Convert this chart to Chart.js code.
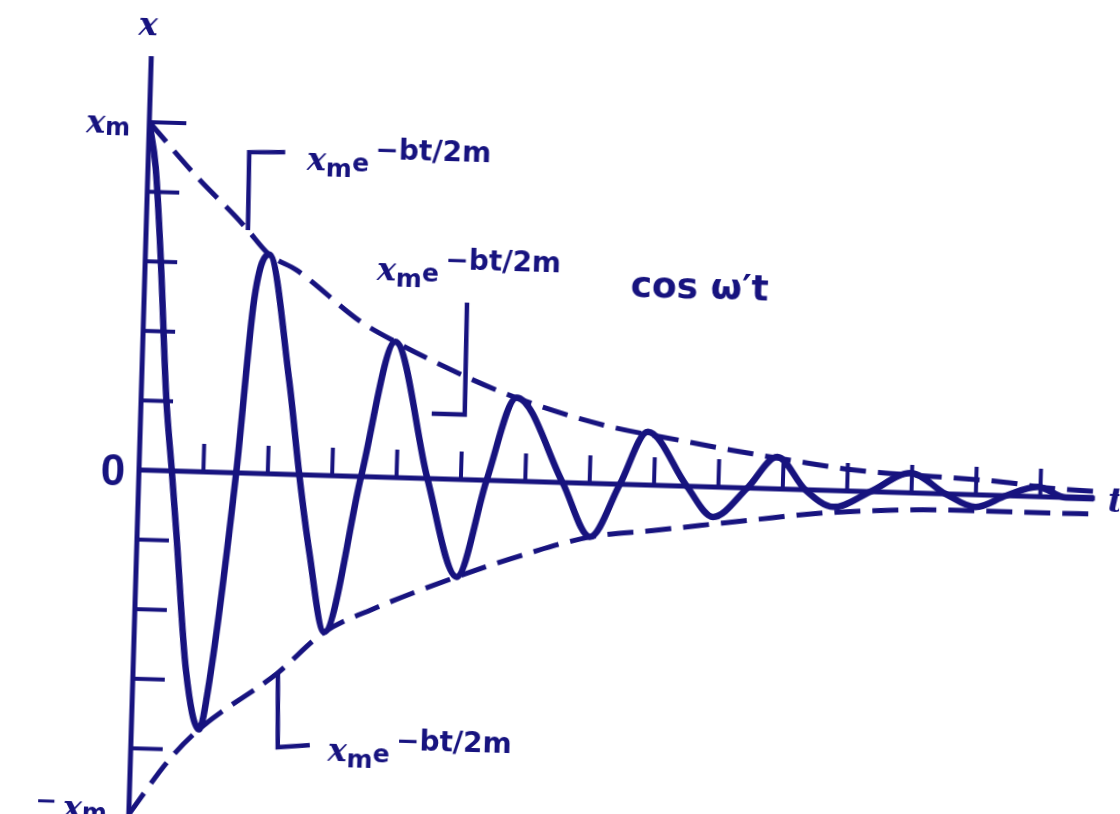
<!DOCTYPE html>
<html>
<head>
<meta charset="utf-8">
<title>Damped oscillation</title>
<script src="https://cdn.jsdelivr.net/npm/chart.js@4.4.1/dist/chart.umd.min.js"></script>
<style>
    html, body { margin: 0; padding: 0; background: #fff; overflow: hidden; }
    #wrap {
        position: absolute; left: 0; top: 0; width: 1120px; height: 900px;
        transform: rotate(1.7deg); transform-origin: 140px 470px;
    }
</style>
</head>
<body>
<div id="wrap"><canvas id="oscChart" width="1120" height="900"></canvas></div>
<script>
// 阻尼振动 x(t) = x_m e^(-bt/2m) cos ω't
const INK = '#17137f';

// 振动曲线 (t, x/x_m)
const curveT = [0, 0.12, 0.24, 0.39, 0.51, 0.61, 0.82, 1.05, 1.19, 1.51, 1.71, 1.92,
    2.29, 2.49, 2.68, 2.95, 3.45, 3.92, 4.48, 4.98, 5.40, 5.83, 6.58, 7.03, 7.47, 7.88,
    8.51, 8.93, 9.45, 9.90, 10.35, 10.80, 11.36, 11.98, 12.53, 13.00, 13.47, 13.96, 14.40, 14.83];
const curveX = [1.0, 0.87, 0.61, 0.21, 0, -0.18, -0.57, -0.74, -0.60, 0, 0.50, 0.63,
    0.27, 0, -0.22, -0.45, 0, 0.39, 0, -0.28, 0, 0.24, 0, -0.154, 0, 0.153,
    0, -0.086, 0, 0.092, 0, -0.047, 0, 0.057, 0, -0.035, 0, 0.028, 0, 0];

// 上包络线  x_m e^(-bt/2m)
const upperT = [0, 0.80, 1.39, 1.57, 1.92, 2.35, 3.38, 3.92, 5.04, 5.83, 7.18, 8.49, 9.17,
    10.37, 11.09, 13.42, 14.10, 14.85];
const upperX = [1.0, 0.84, 0.735, 0.70, 0.63, 0.588, 0.444, 0.39, 0.295, 0.239, 0.169, 0.128, 0.108,
    0.077, 0.061, 0.039, 0.026, 0.02];

// 下包络线  -x_m e^(-bt/2m)
const lowerT = [0, 0.6, 1.05, 2.24, 2.95, 3.69, 4.98, 6.10, 7.03, 8.01, 9.55, 10.59, 11.99, 12.67, 14.12, 14.85];
const lowerX = [-0.99, -0.83, -0.74, -0.572, -0.45, -0.38, -0.28, -0.205, -0.154, -0.13, -0.091, -0.066,
    -0.049, -0.046, -0.046, -0.045];

// 坐标轴刻度
const tTicks = [1, 2, 3, 4, 5, 6, 7, 8, 9, 10, 11, 12, 13, 14];
const xTicks = [1, 0.8, 0.6, 0.4, 0.2, -0.2, -0.4, -0.6, -0.8, -1];
const tAxisEnd = 14.85;
const xAxisTop = 1.19;

// 标注锚点
const noteT = [1.58, 5.03, 2.25];
const noteX = [0.698, 0.187, -0.572];

const toPoints = (ts, xs) => ts.map((t, i) => ({ x: t, y: xs[i] }));

function drawRuns(ctx, x, y, runs, align) {
    if (align === 'right') {
        let w = 0;
        runs.forEach(r => { ctx.font = r.font; w += ctx.measureText(r.text).width + (r.gap || 0); });
        x -= w;
    }
    runs.forEach(r => {
        ctx.font = r.font;
        ctx.fillText(r.text, x, y + (r.dy || 0));
        x += ctx.measureText(r.text).width + (r.gap || 0);
    });
}

const X_FONT = 'italic bold 32px "DejaVu Serif"';
const expRuns = [
    { text: 'x', font: X_FONT },
    { text: 'm', font: 'bold 25px "DejaVu Sans"', dy: 6 },
    { text: 'e', font: 'bold 25px "DejaVu Sans"', gap: 6 },
    { text: '\u2212bt/2m', font: 'bold 28px "DejaVu Sans"', dy: -13 }
];

const notes = [
    { path: [[0, 0], [-1, -78], [35, -79]], text: [57, -62] },
    { path: [[-33, 0], [0, 0], [-1, -112]], text: [-92, -132], cos: [162, -123] },
    { path: [[0, 0], [2, 74], [34, 71]], text: [52, 86] }
];

const inkPlugin = {
    id: 'ink',
    beforeDatasetsDraw(chart) {
        const { ctx } = chart;
        const sx = chart.scales.x, sy = chart.scales.y;
        const px = v => sx.getPixelForValue(v);
        const py = v => sy.getPixelForValue(v);
        const seg = (x1, y1, x2, y2) => { ctx.beginPath(); ctx.moveTo(x1, y1); ctx.lineTo(x2, y2); ctx.stroke(); };
        ctx.save();
        ctx.strokeStyle = INK;
        ctx.lineCap = 'butt';
        // 坐标轴
        ctx.lineWidth = 5;
        seg(px(0), py(xAxisTop), px(0), py(sy.min));
        seg(px(0), py(0), px(tAxisEnd), py(0));
        // 刻度
        ctx.lineWidth = 4;
        tTicks.forEach(t => seg(px(t), py(0), px(t), py(0) - 28));
        xTicks.forEach(v => seg(px(0), py(v), px(0) + (v === 1 ? 37 : 32), py(v)));
        ctx.restore();
    },
    afterDatasetsDraw(chart) {
        const { ctx } = chart;
        const sx = chart.scales.x, sy = chart.scales.y;
        const px = v => sx.getPixelForValue(v);
        const py = v => sy.getPixelForValue(v);
        ctx.save();
        ctx.strokeStyle = INK;
        ctx.fillStyle = INK;
        ctx.textBaseline = 'alphabetic';

        // 轴标签
        ctx.textAlign = 'center';
        ctx.font = X_FONT;
        ctx.fillText('x', px(0) - 4, py(1) - 87);
        ctx.textAlign = 'left';
        drawRuns(ctx, px(0) - 19, py(1) + 12, [
            { text: 'x', font: X_FONT },
            { text: 'm', font: 'bold 24px "DejaVu Sans"', dy: 2 }
        ], 'right');
        ctx.textAlign = 'center';
        ctx.font = 'bold 44px "Liberation Sans"';
        ctx.fillText('0', px(0) - 26, py(0) + 16);
        ctx.textAlign = 'left';
        drawRuns(ctx, px(0) - 22, py(-1) + 2, [
            { text: '\u2212', font: 'bold 26px "DejaVu Sans"', gap: 6, dy: -8 },
            { text: 'x', font: X_FONT },
            { text: 'm', font: 'bold 24px "DejaVu Sans"', dy: 2 }
        ], 'right');
        ctx.font = 'italic bold 34px "DejaVu Serif"';
        ctx.fillText('t', px(tAxisEnd) + 13, py(0) + 13);

        // 包络线与曲线的标注
        ctx.lineWidth = 4.5;
        ctx.lineJoin = 'miter';
        notes.forEach((n, i) => {
            const ax = px(noteT[i]), ay = py(noteX[i]);
            ctx.beginPath();
            n.path.forEach(([dx, dy], k) => k ? ctx.lineTo(ax + dx, ay + dy) : ctx.moveTo(ax + dx, ay + dy));
            ctx.stroke();
            drawRuns(ctx, ax + n.text[0], ay + n.text[1], expRuns);
            if (n.cos) {
                ctx.font = 'bold 36px "DejaVu Sans"';
                ctx.fillText('cos \u03c9\u2032t', ax + n.cos[0], ay + n.cos[1]);
            }
        });
        ctx.restore();
    }
};

const ctx = document.getElementById('oscChart').getContext('2d');
new Chart(ctx, {
    type: 'scatter',
    data: {
        datasets: [{
            label: "x_m e^(-bt/2m) cos ω't",
            data: toPoints(curveT, curveX),
            showLine: true,
            borderColor: INK,
            borderWidth: 6.5,
            borderJoinStyle: 'round',
            cubicInterpolationMode: 'monotone',
            pointRadius: 0
        }, {
            label: 'x_m e^(-bt/2m)',
            data: toPoints(upperT, upperX),
            showLine: true,
            borderColor: INK,
            borderWidth: 5,
            borderDash: [26, 12],
            cubicInterpolationMode: 'monotone',
            pointRadius: 0
        }, {
            label: '-x_m e^(-bt/2m)',
            data: toPoints(lowerT, lowerX),
            showLine: true,
            borderColor: INK,
            borderWidth: 5,
            borderDash: [26, 12],
            cubicInterpolationMode: 'monotone',
            pointRadius: 0
        }]
    },
    options: {
        responsive: false,
        animation: false,
        events: [],
        layout: { padding: { left: 139, right: 15, top: 52.4, bottom: 12.4 } },
        scales: {
            x: { type: 'linear', min: 0, max: 15, display: false },
            y: { type: 'linear', min: -1.2, max: 1.2, display: false }
        },
        plugins: {
            legend: { display: false },
            tooltip: { enabled: false }
        }
    },
    plugins: [inkPlugin]
});
</script>
</body>
</html>
